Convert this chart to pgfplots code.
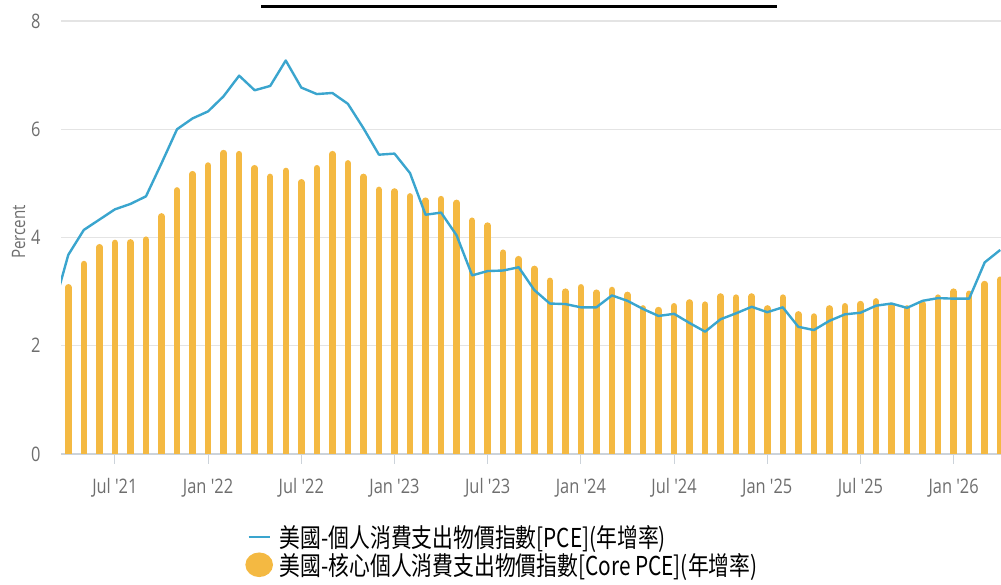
\documentclass[border=0pt]{standalone}
\usepackage{fontspec}
\setmainfont{Open Sans}[FakeStretch=0.82, Ligatures=TeXOff]
\newfontfamily\cjk{Noto Sans CJK TC}[FakeStretch=0.8]
\usepackage{pgfplots}
\pgfplotsset{compat=1.18}
\definecolor{barc}{HTML}{F4B942}
\definecolor{linec}{HTML}{3AA5CE}
\definecolor{txt}{HTML}{6E6E6E}
\definecolor{gridc}{HTML}{E4E4E4}
\definecolor{axc}{HTML}{CCD3DA}

\pgfplotstableread{
i v
0 3.08
1 3.51
2 3.82
3 3.90
4 3.91
5 3.96
6 4.39
7 4.87
8 5.17
9 5.33
10 5.56
11 5.54
12 5.28
13 5.12
14 5.23
15 5.02
16 5.28
17 5.54
18 5.37
19 5.12
20 4.88
21 4.85
22 4.76
23 4.68
24 4.71
25 4.64
26 4.31
27 4.22
28 3.72
29 3.60
30 3.42
31 3.20
32 3.00
33 3.08
34 2.98
35 3.03
36 2.94
37 2.69
38 2.66
39 2.73
40 2.80
41 2.76
42 2.91
43 2.89
44 2.91
45 2.69
46 2.89
47 2.58
48 2.54
49 2.69
50 2.73
51 2.77
52 2.82
53 2.73
54 2.69
55 2.77
56 2.89
57 3.00
58 2.96
59 3.14
60 3.22
}\coretable

\pgfplotstableread{
i v
-1 2.65
0 3.68
1 4.14
2 4.33
3 4.52
4 4.62
5 4.76
6 5.37
7 6.00
8 6.20
9 6.33
10 6.61
11 6.99
12 6.72
13 6.80
14 7.27
15 6.77
16 6.65
17 6.67
18 6.47
19 6.02
20 5.53
21 5.55
22 5.19
23 4.42
24 4.46
25 4.04
26 3.30
27 3.38
28 3.39
29 3.45
30 3.03
31 2.78
32 2.77
33 2.71
34 2.71
35 2.93
36 2.83
37 2.68
38 2.55
39 2.59
40 2.42
41 2.26
42 2.49
43 2.60
44 2.72
45 2.62
46 2.71
47 2.35
48 2.29
49 2.46
50 2.58
51 2.61
52 2.74
53 2.78
54 2.70
55 2.83
56 2.88
57 2.87
58 2.87
59 3.54
60 3.77
}\pcetable

\begin{document}
\begin{tikzpicture}[x=1pt,y=1pt]
\useasboundingbox (0,0) rectangle (1001,585);
\draw[line width=3pt] (261,578.5) -- (777,578.5);
\begin{axis}[
  at={(61pt,131pt)}, anchor=south west,
  width=940pt, height=433pt, scale only axis,
  xmin=-0.47, xmax=60.05, ymin=0, ymax=8,
  ytick={0,2,4,6,8},
  xtick={3,9,15,21,27,33,39,45,51,57},
  xticklabels={Jul '21,Jan '22,Jul '22,Jan '23,Jul '23,Jan '24,Jul '24,Jan '25,Jul '25,Jan '26},
  axis lines*=left,
  x axis line style={draw=axc, line width=1.2pt},
  y axis line style={draw=none},
  ymajorgrids, grid style={draw=gridc, line width=1.2pt},
  tick align=outside,
  xtick style={draw=axc, line width=1pt},
  major tick length=10pt,
  ytick style={draw=none},
  /pgf/number format/assume math mode=true,
  tick label style={font=\fontsize{20}{22}\selectfont, text=txt},
  xticklabel style={yshift=-11pt},
  yticklabel style={xshift=-7pt},
  ylabel={Percent},
  ylabel style={font=\fontsize{18.5}{20}\selectfont, text=txt, at={(axis description cs:-0.045,0.513)}, anchor=center},
  clip=true,
  reverse legend,
  legend style={at={(axis description cs:0.196,-0.160)}, anchor=north west, draw=none, fill=none,
    font=\cjk\fontsize{26}{27}\selectfont, text=black, row sep=0pt, inner sep=0pt,
    cells={anchor=west}, /tikz/every even column/.append style={column sep=0pt}},
  legend cell align=left,
]
\addplot[ycomb, draw=barc, line width=6.5pt, line cap=round,
  legend image code/.code={\fill[barc] (10.5pt,0pt) ellipse (10.5pt and 9pt);}]
  table[x=i, y=v] {\coretable};
\addlegendentry{\hspace{5pt}美國-核心個人消費支出物價指數[Core PCE](年增率)}
\addplot[draw=linec, line width=2.4pt, line join=round, mark=none,
  legend image code/.code={\draw[linec, line width=2.4pt] (0pt,0pt) -- (21pt,0pt);}]
  table[x=i, y=v] {\pcetable};
\addlegendentry{\hspace{5pt}美國-個人消費支出物價指數[PCE](年增率)}
\end{axis}
\end{tikzpicture}
\end{document}
